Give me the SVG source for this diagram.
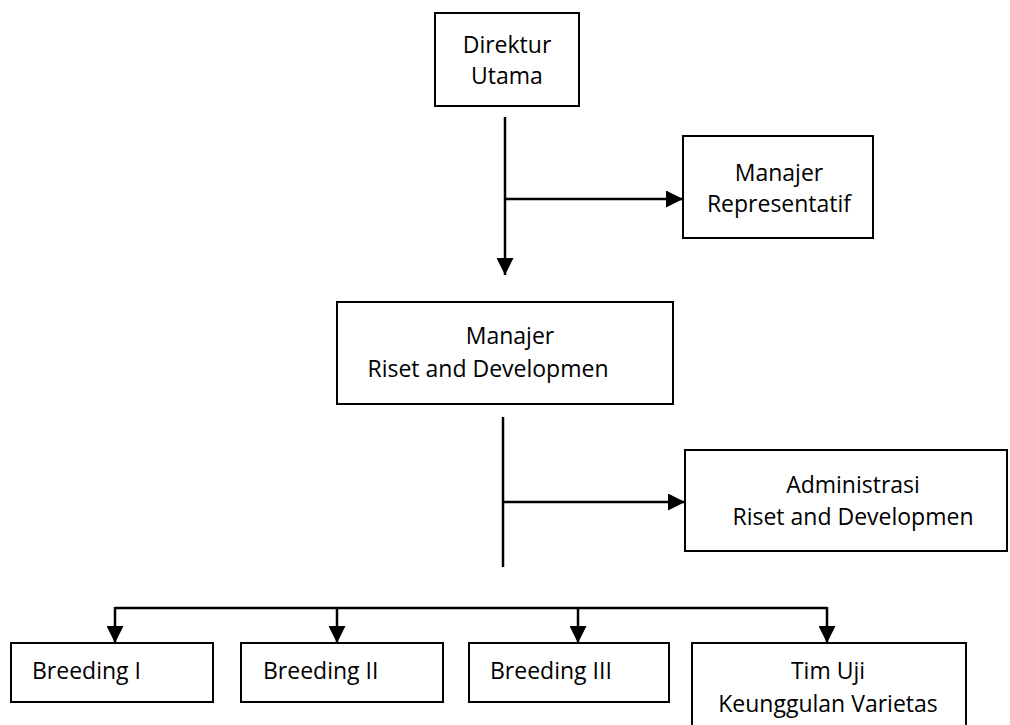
<svg xmlns="http://www.w3.org/2000/svg" width="1010" height="725" viewBox="0 0 1010 725">
<defs>
<style>
.box{fill:#fff;stroke:#000;stroke-width:2}
.ln{fill:none;stroke:#000;stroke-width:2.5}
text{font-family:"Open Sans","Liberation Sans",sans-serif;font-size:23px;fill:#000}
.c{text-anchor:middle}
</style>
<marker id="ah" markerUnits="userSpaceOnUse" markerWidth="17" markerHeight="17" viewBox="0 0 16 16" refX="16" refY="8" orient="auto">
<path d="M0,0 L16,8 L0,16 Z" fill="#000"/>
</marker>
</defs>
<rect width="1010" height="725" fill="#fff"/>
<g id="connectors">
<line class="ln" x1="505" y1="117" x2="505" y2="275" marker-end="url(#ah)"/>
<line class="ln" x1="505" y1="199" x2="683" y2="199" marker-end="url(#ah)"/>
<line class="ln" x1="503" y1="417" x2="503" y2="567"/>
<line class="ln" x1="503" y1="502" x2="685" y2="502" marker-end="url(#ah)"/>
<line class="ln" x1="115" y1="608" x2="827" y2="608"/>
<line class="ln" x1="115" y1="607" x2="115" y2="643" marker-end="url(#ah)"/>
<line class="ln" x1="337" y1="607" x2="337" y2="643" marker-end="url(#ah)"/>
<line class="ln" x1="578" y1="607" x2="578" y2="643" marker-end="url(#ah)"/>
<line class="ln" x1="827" y1="607" x2="827" y2="643" marker-end="url(#ah)"/>
</g>
<g id="direktur-utama">
<rect class="box" x="435" y="13" width="144" height="93"/>
<text class="c" x="507" y="53">Direktur</text>
<text class="c" x="507" y="84">Utama</text>
</g>
<g id="manajer-representatif">
<rect class="box" x="683" y="136" width="190" height="102"/>
<text class="c" x="779" y="181">Manajer</text>
<text class="c" x="779" y="212">Representatif</text>
</g>
<g id="manajer-riset">
<rect class="box" x="337" y="302" width="336" height="102"/>
<text class="c" x="510" y="344">Manajer</text>
<text class="c" x="488" y="377">Riset and Developmen</text>
</g>
<g id="administrasi">
<rect class="box" x="685" y="450" width="322" height="101"/>
<text class="c" x="853" y="493">Administrasi</text>
<text class="c" x="853" y="525">Riset and Developmen</text>
</g>
<g id="breeding-1">
<rect class="box" x="11" y="643" width="202" height="59"/>
<text x="32" y="679">Breeding I</text>
</g>
<g id="breeding-2">
<rect class="box" x="241" y="643" width="202" height="59"/>
<text x="263" y="679">Breeding II</text>
</g>
<g id="breeding-3">
<rect class="box" x="469" y="643" width="200" height="59"/>
<text x="490" y="679">Breeding III</text>
</g>
<g id="tim-uji">
<rect class="box" x="692" y="643" width="274" height="90"/>
<text class="c" x="828" y="679">Tim Uji</text>
<text class="c" x="828" y="712">Keunggulan Varietas</text>
</g>
</svg>
